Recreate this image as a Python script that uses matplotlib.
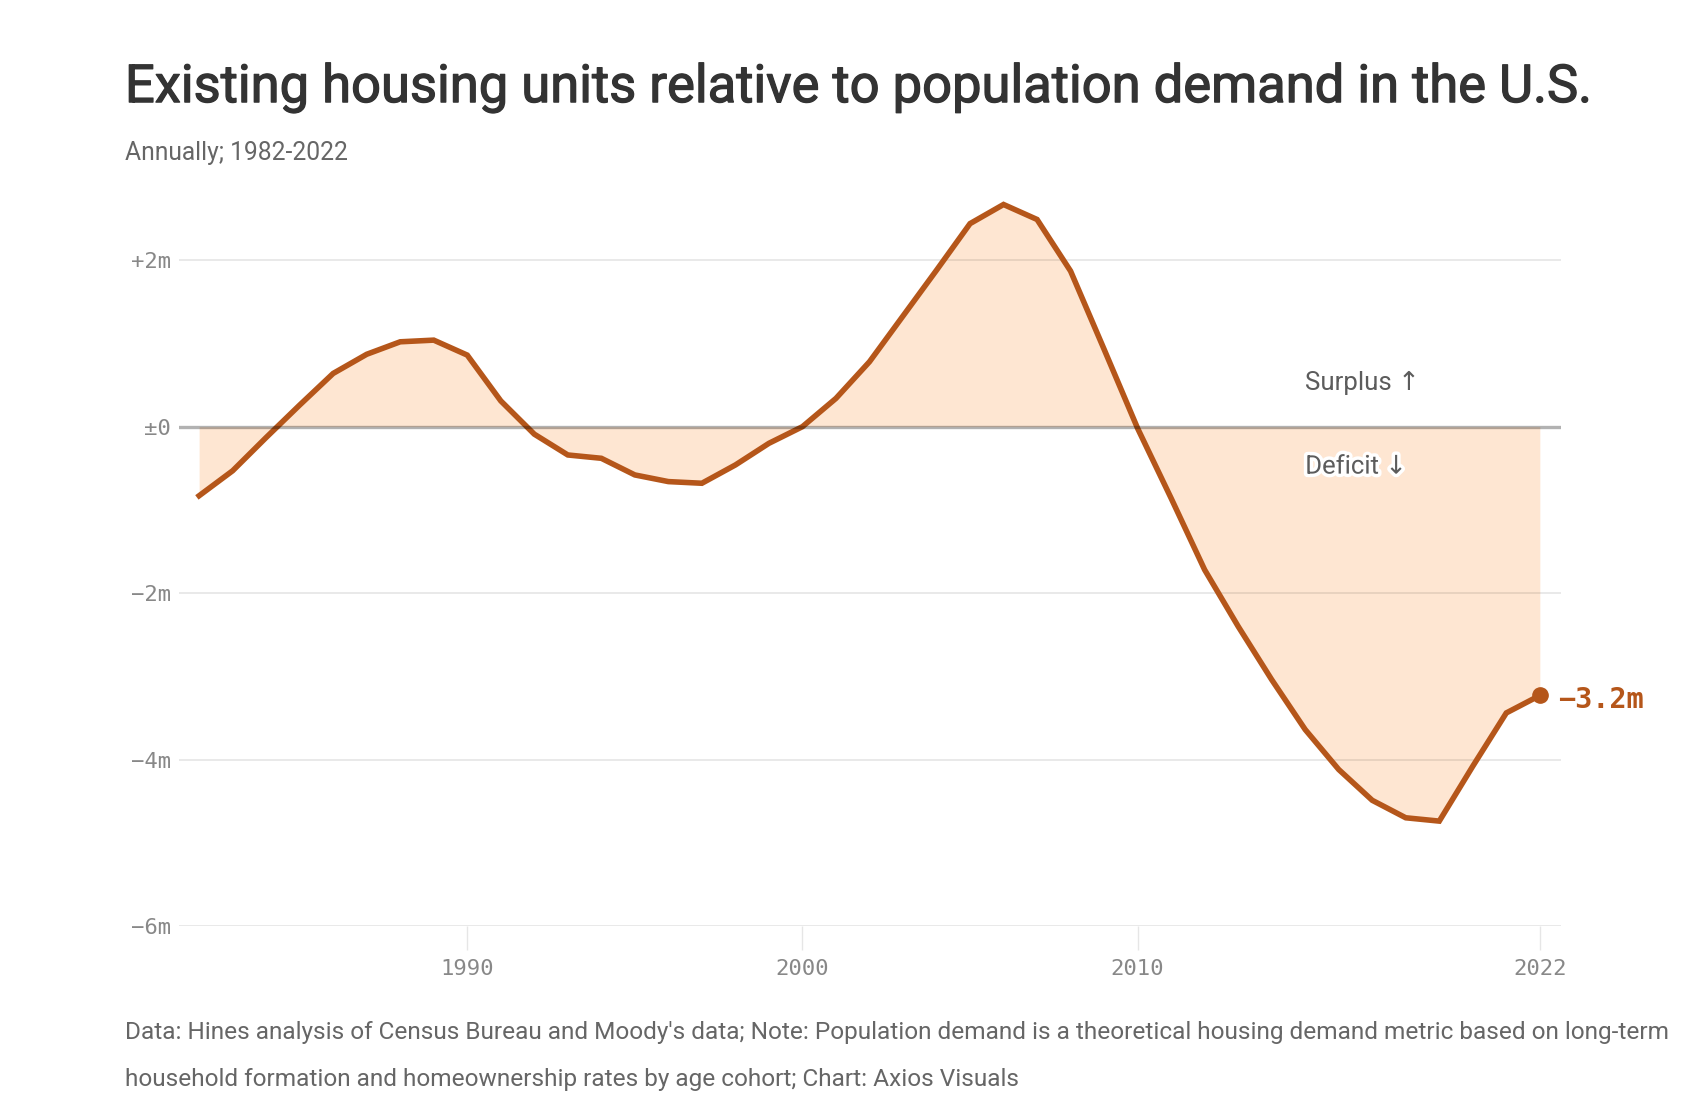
import matplotlib
matplotlib.use('Agg')
import matplotlib.pyplot as plt
import matplotlib.patheffects as pe

# data: housing surplus/deficit, millions of units
years = list(range(1982, 2023))
values = [-0.83, -0.53, -0.13, 0.26, 0.64, 0.87, 1.02, 1.04, 0.86, 0.31,
          -0.09, -0.34, -0.38, -0.58, -0.66, -0.68, -0.46, -0.20, 0.0, 0.34,
          0.78, 1.33, 1.88, 2.44, 2.67, 2.49, 1.87, 0.93, -0.02, -0.86,
          -1.72, -2.40, -3.04, -3.64, -4.12, -4.49, -4.70, -4.74, -4.08, -3.44,
          -3.23]
ytick_vals = [2, 0, -2, -4, -6]
ytick_labels = ['+2m', '±0', '−2m', '−4m', '−6m']
xtick_vals = [1990, 2000, 2010, 2022]
xtick_labels = ['1990', '2000', '2010', '2022']

line_col = '#b5561a'
fill_col = '#fee6d2'
mono = 'DejaVu Sans Mono'
sans = ['Roboto', 'DejaVu Sans']

fig = plt.figure(figsize=(17, 11.12), dpi=100)
ax = fig.add_axes([0.1053, 0.1673, 0.8129, 0.6735])

ax.fill_between(years, values, 0, color=fill_col, linewidth=0, zorder=1)
for v in ytick_vals:
    if v == 0:
        ax.axhline(v, color='black', alpha=0.3, lw=2.4, zorder=6)
    else:
        ax.axhline(v, color='black', alpha=0.1, lw=1.2, zorder=4)
ax.plot(years, values, color=line_col, lw=4, zorder=5, solid_joinstyle='miter')
ax.plot(years[-1], values[-1], 'o', color=line_col, markersize=11, zorder=7)
ax.text(years[-1] + 0.55, values[-1] - 0.06, '−3.2m', color=line_col,
        fontsize=20.5, fontweight='bold', family=mono, va='center', ha='left')

ax.text(2015.0, 0.53, 'Surplus ↑', fontsize=18.5, color='#5c5c5c', family=sans,
        va='center', ha='left')
ax.text(2015.0, -0.48, 'Deficit ↓', fontsize=18.5, color='#5c5c5c', family=sans,
        va='center', ha='left', zorder=8,
        path_effects=[pe.withStroke(linewidth=5, foreground='white')])

ax.set_xlim(1981.4, 2022.63)
ax.set_ylim(-6, 3.0)
ax.set_yticks(ytick_vals)
ax.set_yticklabels(ytick_labels)
ax.set_xticks(xtick_vals)
ax.set_xticklabels(xtick_labels)
ax.tick_params(axis='y', length=0, pad=6, labelsize=16, labelcolor='#888888')
ax.tick_params(axis='x', length=17, width=1, color='#e6e6e6', pad=7,
               labelsize=16, labelcolor='#888888')
for lab in ax.get_xticklabels() + ax.get_yticklabels():
    lab.set_family(mono)
for s in ax.spines.values():
    s.set_visible(False)

fig.text(0.0735, 0.921, 'Existing housing units relative to population demand in the U.S.',
         fontsize=37.8, color='#333333', family=sans, va='center', ha='left',
         path_effects=[pe.withStroke(linewidth=0.9, foreground='#333333')])
fig.text(0.0735, 0.862, 'Annually; 1982-2022', fontsize=17.7, color='#666666',
         family=sans, va='center', ha='left')
fig.text(0.0735, 0.0715, "Data: Hines analysis of Census Bureau and Moody's data; Note: Population demand is a theoretical housing demand metric based on long-term",
         fontsize=17.55, color='#666666', family=sans, va='center', ha='left')
fig.text(0.0735, 0.0295, 'household formation and homeownership rates by age cohort; Chart: Axios Visuals',
         fontsize=17.55, color='#666666', family=sans, va='center', ha='left')

plt.savefig('out.png', dpi=100)
